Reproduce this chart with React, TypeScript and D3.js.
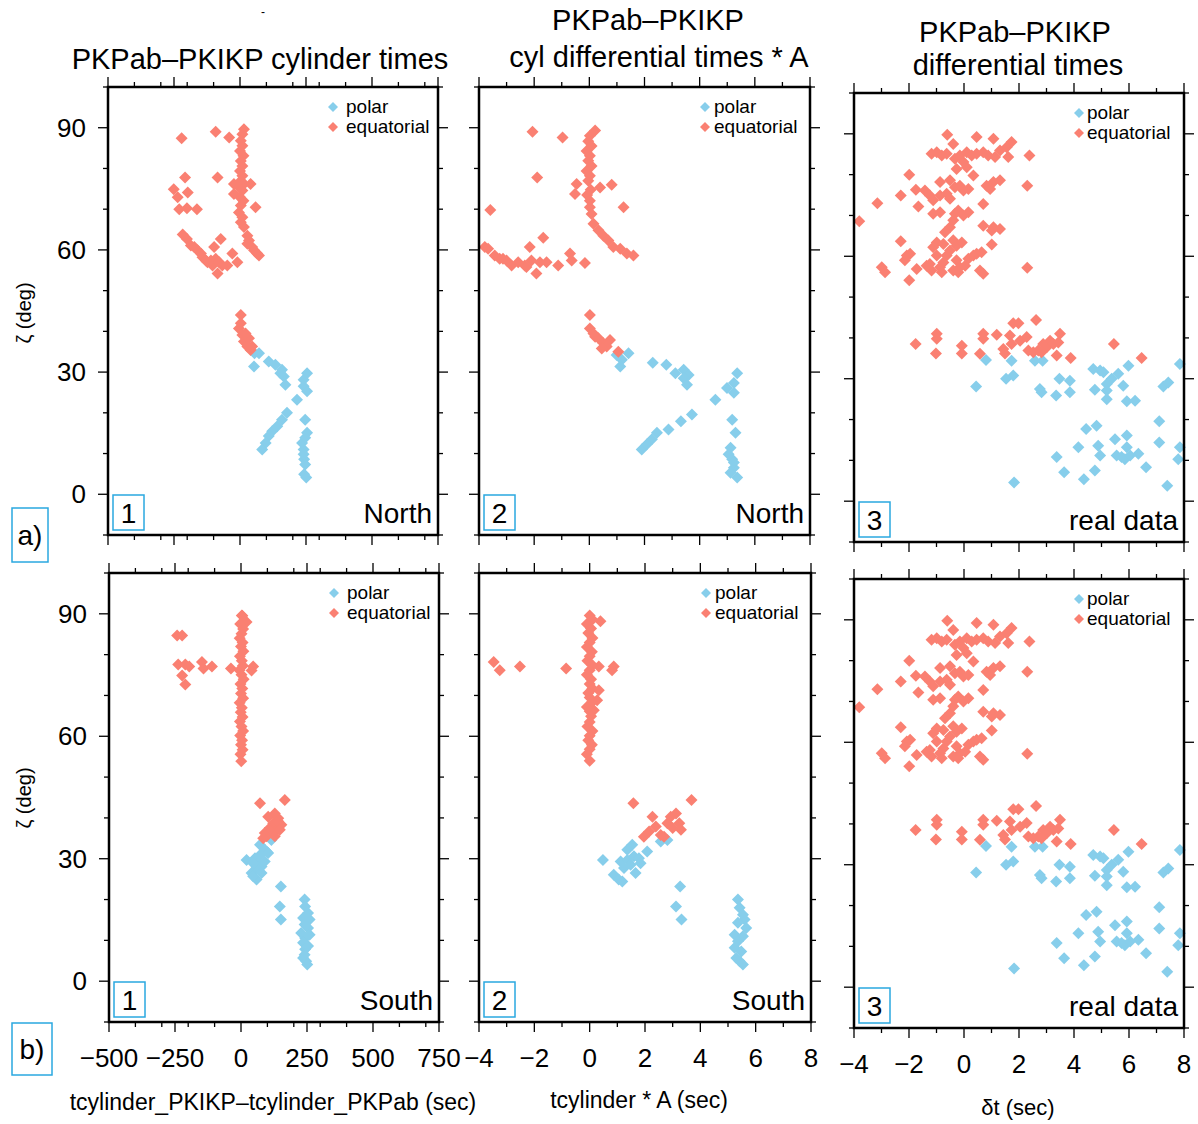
import React from 'react';
import * as d3 from 'd3';

type Pt = [number, number];

// ---------- DATA ----------
const seriesNames = ['polar', 'equatorial'];
const panelNumbers = ['1', '2', '3'];
const regionNames = ['North', 'South', 'real data'];
const rowLabels = ['a)', 'b)'];

const cylTicks = [-500, -250, 0, 250, 500, 750];
const cylMinorTicks = [-500, -400, -300, -200, -100, 0, 100, 200, 300, 400, 500, 600, 700];
const secTicks = [-4, -2, 0, 2, 4, 6, 8];
const secMinorTicks = [-4, -3, -2, -1, 0, 1, 2, 3, 4, 5, 6, 7, 8];
const zetaTicks = [0, 30, 60, 90];
const zetaMinorTicks = [-10, 0, 10, 20, 30, 40, 50, 60, 70, 80, 90, 100];

// Panel 1, North: cylinder times
const cylNorthPolar: Pt[] = [
  [55, 34.6], [72, 34.6], [53, 31.4], [109, 32.6], [134, 31.8], [159, 30.6], [166, 28.9], [172, 26.9],
  [153, 29.7], [254, 29.7], [241, 28.1], [241, 26.5], [254, 25.3], [216, 23.2], [178, 20.0], [159, 18.3],
  [141, 16.7], [122, 15.5], [109, 14.3], [97, 12.6], [84, 11.0], [247, 18.3], [254, 15.1], [241, 11.0],
  [243, 8.6], [247, 7.3], [243, 4.9], [251, 4.1], [241, 9.8], [235, 12.6], [247, 13.9],
];
const cylNorthEquatorial: Pt[] = [
  [-221, 87.4], [-92, 89.0], [-41, 87.6], [15, 89.6], [-208, 77.8], [-85, 77.8], [-251, 74.9], [-198, 74.1],
  [-236, 72.9], [-230, 70.0], [-201, 70.2], [-163, 70.0], [-23, 76.2], [40, 76.2], [-23, 73.7], [59, 70.5],
  [9, 88.4], [3, 86.8], [9, 85.6], [0, 84.3], [13, 83.1], [3, 81.8], [9, 80.6], [0, 79.4], [9, 78.2],
  [3, 77.0], [15, 76.2], [-4, 75.4], [9, 74.6], [0, 72.9], [13, 72.1], [3, 70.9], [-4, 69.2], [9, 68.0],
  [3, 66.8], [15, 65.6], [28, 63.5], [34, 62.3], [46, 60.7], [53, 59.9], [65, 59.1], [72, 58.6], [28, 61.5],
  [-217, 63.8], [-201, 62.7], [-186, 61.1], [-161, 59.9], [-142, 58.2], [-123, 57.0], [-104, 56.2], [-85, 54.2],
  [-92, 57.8], [-73, 62.7], [-98, 60.7], [-48, 56.2], [-29, 59.1], [-10, 57.0], [-148, 59.1], [-110, 57.4],
  [-79, 57.0], [-129, 57.4], [-67, 56.2], [-173, 60.7],
  [3, 44.0], [-4, 40.7], [9, 39.1], [15, 37.5], [28, 36.3], [40, 35.4], [34, 38.3], [21, 39.5], [3, 42.0], [46, 36.3],
];

// Panel 1, South
const cylSouthPolar: Pt[] = [
  [115, 34.6], [72, 33.4], [90, 32.2], [97, 31.8], [21, 29.7], [53, 30.1], [65, 28.9], [78, 28.1], [59, 27.7],
  [40, 26.5], [59, 24.9], [46, 25.7], [78, 26.5], [90, 29.3], [103, 31.4], [72, 30.9], [46, 28.9], [151, 23.2],
  [147, 18.3], [151, 15.1], [241, 20.0], [243, 18.3], [254, 16.7], [235, 15.5], [260, 15.1], [241, 13.9],
  [254, 13.0], [228, 11.8], [260, 11.4], [243, 10.6], [235, 9.4], [254, 8.6], [243, 7.8], [235, 5.7],
  [247, 4.9], [251, 4.1], [241, 6.5],
];
const cylSouthEquatorial: Pt[] = [
  [-242, 84.7], [-223, 84.7], [-238, 77.6], [-211, 77.6], [-196, 77.1], [-223, 74.9], [-211, 72.7], [-148, 78.2],
  [-142, 76.6], [-110, 77.1], [-38, 76.6], [46, 77.1], [40, 76.1], [21, 88.0], [3, 89.6],
  [5, 89.5], [10, 88.2], [-3, 87.5], [8, 86.3], [2, 85.1], [-5, 84.0], [6, 83.0], [0, 82.0], [9, 80.8],
  [-4, 79.6], [3, 78.5], [7, 77.3], [-6, 76.2], [2, 75.1], [10, 74.0], [-2, 72.8], [5, 71.7], [0, 70.5],
  [8, 69.3], [-5, 68.2], [3, 67.0], [-1, 65.9], [6, 64.7], [-4, 63.6], [2, 62.4], [8, 61.3], [-3, 60.2],
  [4, 59.0], [0, 57.9], [6, 56.7], [-2, 55.6], [1, 53.9],
  [72, 43.6], [166, 44.4], [103, 40.3], [128, 41.1], [141, 39.9], [122, 38.7], [153, 38.3], [109, 37.5],
  [134, 37.1], [90, 36.3], [115, 36.7], [141, 39.1], [97, 35.5], [84, 35.0], [128, 35.5], [147, 37.1],
];

// Panel 2, North: cylinder times * A
const cylANorthPolar: Pt[] = [
  [0.99, 34.2], [1.42, 34.6], [1.18, 33.0], [1.12, 31.4], [2.30, 32.3], [2.79, 31.8], [3.12, 29.7], [3.42, 30.6],
  [3.6, 29.3], [3.42, 28.5], [3.54, 26.9], [4.57, 23.2], [4.99, 26.1], [5.24, 27.3], [5.36, 29.7], [5.24, 24.9],
  [3.72, 19.6], [3.32, 17.9], [2.87, 15.9], [2.45, 15.1], [2.27, 13.5], [1.9, 11.0], [2.08, 12.2], [5.18, 18.3],
  [5.3, 15.1], [5.12, 11.4], [5.18, 8.6], [5.24, 6.5], [5.36, 4.1], [5.12, 5.3], [5.05, 9.8], [5.24, 7.8],
];
const cylANorthEquatorial: Pt[] = [
  [-2.06, 89.0], [-0.97, 87.6], [0.21, 89.3], [0.02, 88.0], [-0.04, 86.7], [0.08, 85.5], [-0.1, 84.3],
  [0.02, 83.1], [-0.04, 81.9], [0.08, 80.6], [-0.1, 79.4], [0.02, 78.2], [-0.04, 77.0], [0.05, 74.8],
  [-0.08, 73.5], [0.02, 72.1], [0.02, 70.5], [-1.89, 77.8], [-0.46, 76.2], [-0.52, 73.7], [0.39, 75.3],
  [0.81, 76.0], [1.24, 70.5], [-3.59, 69.8], [0.08, 68.8], [0.15, 66.4], [0.33, 64.8], [0.51, 63.5],
  [0.69, 62.3], [0.87, 60.7], [1.12, 60.3], [1.36, 59.1], [1.6, 58.6], [-3.79, 60.7], [-3.67, 60.3],
  [-3.43, 58.6], [-3.25, 57.8], [-3.0, 57.4], [-2.82, 56.2], [-2.58, 57.0], [-2.34, 56.2], [-2.16, 60.7],
  [-2.1, 57.4], [-1.92, 54.2], [-1.79, 57.0], [-1.67, 63.0], [-1.55, 57.0], [-1.13, 56.2], [-0.7, 59.1],
  [-0.64, 57.4], [-0.16, 56.8], [-2.28, 55.8], [-3.13, 57.8],
  [0.02, 44.0], [0.02, 40.7], [0.15, 39.5], [0.33, 38.3], [0.51, 37.1], [0.63, 36.3], [0.75, 37.9],
  [1.05, 35.0], [0.21, 38.7], [0.45, 35.8],
];

// Panel 2, South
const cylASouthPolar: Pt[] = [
  [2.57, 34.2], [2.81, 34.6], [1.54, 33.4], [2.08, 31.8], [0.48, 29.7], [1.12, 29.3], [1.36, 29.7], [1.6, 30.6],
  [1.78, 30.1], [1.48, 28.5], [1.24, 27.7], [1.66, 26.5], [0.87, 26.1], [1.05, 24.9], [1.18, 24.4], [1.84, 28.9],
  [1.36, 32.2], [3.27, 23.2], [3.12, 18.3], [3.32, 15.1], [5.36, 20.0], [5.42, 18.0], [5.54, 16.3], [5.6, 15.1],
  [5.36, 14.3], [5.66, 13.0], [5.24, 11.4], [5.54, 11.0], [5.36, 9.8], [5.24, 8.2], [5.48, 7.3], [5.3, 5.7],
  [5.54, 4.1], [5.42, 4.9],
];
const cylASouthEquatorial: Pt[] = [
  [-3.47, 78.2], [-3.25, 76.2], [-2.52, 77.1], [-0.85, 76.6], [0.39, 88.2], [0.33, 77.1], [0.87, 77.1],
  [0.81, 76.2], [0.33, 71.3], [0.27, 68.8], [0.15, 66.4],
  [0.0, 89.6], [0.1, 88.6], [-0.1, 87.5], [0.05, 86.4], [-0.05, 85.3], [0.1, 84.1], [0.0, 83.0], [-0.1, 81.9],
  [0.08, 80.7], [0.0, 79.6], [-0.08, 78.5], [0.1, 77.4], [0.0, 76.2], [-0.1, 75.1], [0.05, 74.0], [0.0, 72.8],
  [0.1, 71.7], [-0.05, 70.6], [0.0, 69.5], [0.08, 68.3], [-0.1, 67.2], [0.0, 66.1], [0.05, 64.9], [0.0, 63.5],
  [-0.08, 62.4], [0.1, 61.3], [0.0, 60.1], [-0.05, 59.0], [0.08, 57.9], [0.0, 56.8], [-0.1, 55.6], [0.0, 54.0],
  [1.58, 43.6], [3.68, 44.4], [2.27, 40.3], [1.96, 35.4], [2.15, 36.7], [2.39, 37.9], [2.57, 35.8], [2.81, 38.7],
  [2.93, 40.3], [3.12, 41.1], [3.0, 37.5], [3.24, 38.7], [3.3, 37.1], [2.69, 35.4],
];

// Panel 3: real data (differential times)
const realPolar: Pt[] = [
  [0.44, 28.1], [0.8, 34.6], [1.53, 30.0], [1.79, 30.8], [1.73, 34.4], [2.58, 34.4], [2.86, 34.4], [2.76, 27.5],
  [2.82, 26.7], [3.35, 25.9], [3.47, 30.0], [3.85, 29.5], [3.85, 26.7], [4.7, 32.4], [4.95, 32.0], [5.07, 31.6],
  [4.76, 27.3], [5.19, 28.7], [5.37, 30.0], [5.61, 31.2], [5.19, 27.1], [5.19, 25.0], [5.79, 28.3], [5.98, 33.2],
  [5.92, 24.5], [6.22, 24.6], [7.25, 28.1], [7.43, 29.1], [7.85, 33.6], [4.44, 17.7], [4.82, 18.5], [5.49, 15.2],
  [5.92, 16.1], [4.88, 13.6], [4.95, 11.2], [5.55, 11.2], [5.73, 10.8], [5.92, 13.2], [5.85, 10.3], [6.34, 11.6],
  [4.16, 13.2], [3.37, 10.8], [3.64, 7.1], [4.36, 5.4], [4.76, 7.5], [6.62, 8.3], [7.1, 19.6], [7.1, 14.4],
  [7.85, 13.2], [7.79, 10.3], [7.39, 3.8], [1.82, 4.6], [6.04, 11.2],
];
const realEquatorial: Pt[] = [
  [-0.61, 89.8], [0.46, 89.2], [1.07, 88.8], [1.73, 88.0], [1.55, 86.7], [1.31, 85.9], [-0.39, 87.5], [-1.18, 85.1],
  [-0.99, 85.5], [-0.81, 84.7], [-0.63, 85.1], [-0.33, 83.9], [-0.15, 84.7], [0.1, 85.5], [0.28, 84.7], [0.46, 85.1],
  [0.7, 85.5], [0.88, 84.7], [1.13, 84.3], [1.61, 84.3], [2.38, 84.7], [-0.02, 83.1], [-0.27, 81.4], [0.1, 81.8],
  [0.34, 79.8], [-1.99, 80.0], [-1.75, 76.3], [-1.42, 76.1], [-1.24, 74.9], [-0.87, 78.2], [-0.51, 78.6],
  [-0.33, 76.9], [-0.15, 77.3], [-0.02, 76.1], [0.16, 76.5], [0.82, 77.3], [1.07, 78.2], [1.31, 78.6],
  [0.95, 76.5], [2.3, 77.3], [-2.3, 74.9], [-3.15, 73.0], [-1.66, 72.2], [-1.12, 73.7], [-0.87, 74.9],
  [-0.63, 75.3], [-0.51, 74.1], [0.7, 72.8], [-3.81, 68.6], [-1.12, 70.4], [-0.87, 70.8], [-0.33, 70.4],
  [-0.21, 71.2], [-0.02, 70.0], [0.16, 70.8], [-0.39, 68.8], [-0.51, 67.1], [-0.69, 65.9], [0.7, 67.5],
  [1.07, 67.1], [1.31, 66.7], [1.01, 66.3], [-2.3, 63.7], [-0.99, 63.4], [-1.12, 62.2], [-0.75, 63.0],
  [-0.39, 63.9], [-0.27, 62.6], [-0.08, 63.4], [1.01, 62.9], [-2.08, 60.2], [-2.15, 59.0], [-1.96, 60.6],
  [-1.72, 56.9], [-1.36, 57.7], [-1.18, 56.5], [-0.87, 57.3], [-0.75, 58.5], [-0.63, 60.2], [-0.27, 59.0],
  [-0.15, 57.3], [0.04, 57.7], [0.16, 59.4], [0.34, 60.2], [0.46, 60.6], [0.64, 61.0], [-2.99, 57.3],
  [-2.87, 56.1], [-1.99, 54.1], [0.58, 56.5], [0.7, 55.7], [2.3, 57.2], [-0.39, 56.5], [-0.21, 56.1],
  [-1.24, 58.1], [-0.81, 56.1], [-0.99, 60.2], [-0.51, 61.4],
  [-1.76, 38.5], [-0.99, 41.0], [-0.99, 39.8], [-1.02, 36.2], [-0.08, 38.1], [-0.08, 36.2], [0.58, 36.1],
  [0.7, 41.0], [0.7, 39.8], [1.19, 40.8], [1.43, 37.3], [1.49, 36.2], [1.67, 40.6], [1.79, 43.6], [1.98, 43.6],
  [1.73, 38.5], [2.04, 39.3], [2.28, 40.2], [2.34, 36.9], [2.62, 44.4], [2.7, 36.9], [2.88, 38.5], [3.01, 37.7],
  [3.13, 39.3], [3.25, 38.5], [3.37, 35.7], [3.49, 41.0], [3.43, 38.9], [3.88, 35.1], [5.45, 38.5], [6.46, 35.1],
  [2.52, 36.5], [2.82, 36.5],
];

// ---------- STYLE / LAYOUT ----------
const FONT = '"Liberation Sans", Arial, Helvetica, sans-serif';
const POLAR = '#87CEEB';
const EQUAT = '#FA8072';
const BOXBLUE = '#2AA8E0';

type PanelSpec = {
  x0: number; x1: number; y0: number; y1: number;
  xDomain: [number, number]; xMajor: number[]; xMinor: number[];
  polar: Pt[]; equatorial: Pt[];
  num: string; region: string; showX: boolean; showY: boolean; legendGap: number;
};

const diamond = (r: number) => `M0,${-r}L${r},0L0,${r}L${-r},0Z`;

function Panel({ p }: { p: PanelSpec }) {
  const x = d3.scaleLinear().domain(p.xDomain).range([p.x0, p.x1]);
  const y = d3.scaleLinear().domain([-10, 100]).range([p.y1, p.y0]);
  const MAJ = 10, MIN = 5;
  const xMajorSet = new Set(p.xMajor);
  const yMajorSet = new Set(zetaTicks);
  const ticks: JSX.Element[] = [];
  p.xMinor.concat(p.xMajor.filter((v) => !p.xMinor.includes(v))).forEach((v, i) => {
    const len = xMajorSet.has(v) ? MAJ : MIN;
    const X = x(v);
    ticks.push(<line key={'xt' + i} x1={X} x2={X} y1={p.y0} y2={p.y0 - len} />);
    ticks.push(<line key={'xb' + i} x1={X} x2={X} y1={p.y1} y2={p.y1 + len} />);
  });
  zetaMinorTicks.forEach((v, i) => {
    const len = yMajorSet.has(v) ? MAJ : MIN;
    const Y = y(v);
    ticks.push(<line key={'yl' + i} x1={p.x0} x2={p.x0 - len} y1={Y} y2={Y} />);
    ticks.push(<line key={'yr' + i} x1={p.x1} x2={p.x1 + len} y1={Y} y2={Y} />);
  });
  const lx = p.x1 - 105;
  return (
    <g>
      <g>
        {p.polar.map((d, i) => (
          <path key={'p' + i} d={diamond(6)} transform={`translate(${x(d[0])},${y(d[1])})`} fill={POLAR} />
        ))}
        {p.equatorial.map((d, i) => (
          <path key={'e' + i} d={diamond(6)} transform={`translate(${x(d[0])},${y(d[1])})`} fill={EQUAT} />
        ))}
      </g>
      <rect x={p.x0} y={p.y0} width={p.x1 - p.x0} height={p.y1 - p.y0} fill="none" stroke="#000" strokeWidth={2.5} />
      <g stroke="#000" strokeWidth={1.3}>{ticks}</g>
      {p.showY && zetaTicks.map((v) => (
        <text key={'yl' + v} x={p.x0 - 22} y={y(v) + 9} textAnchor="end" fontSize={26} fontFamily={FONT}>{v}</text>
      ))}
      {p.showX && p.xMajor.map((v) => (
        <text key={'xl' + v} x={x(v)} y={p.y1 + 45} textAnchor="middle" fontSize={26} fontFamily={FONT}>
          {v < 0 ? '\u2212' + Math.abs(v) : String(v)}
        </text>
      ))}
      <path d={diamond(5)} transform={`translate(${lx},${p.y0 + 20})`} fill={POLAR} />
      <path d={diamond(5)} transform={`translate(${lx},${p.y0 + 40})`} fill={EQUAT} />
      <text x={lx + p.legendGap} y={p.y0 + 26} fontSize={19} fontFamily={FONT}>{seriesNames[0]}</text>
      <text x={lx + p.legendGap} y={p.y0 + 46} fontSize={19} fontFamily={FONT}>{seriesNames[1]}</text>
      <rect x={p.x0 + 5} y={p.y1 - 40} width={31} height={35} fill="none" stroke={BOXBLUE} strokeWidth={1.5} />
      <text x={p.x0 + 20.5} y={p.y1 - 12} textAnchor="middle" fontSize={28} fontFamily={FONT}>{p.num}</text>
      <text x={p.x1 - 6} y={p.y1 - 12} textAnchor="end" fontSize={28} fontFamily={FONT}>{p.region}</text>
    </g>
  );
}

export default function App() {
  const panels: PanelSpec[] = [
    { x0: 108, x1: 438, y0: 87, y1: 535, xDomain: [-500, 750], xMajor: cylTicks, xMinor: cylMinorTicks,
      polar: cylNorthPolar, equatorial: cylNorthEquatorial, num: panelNumbers[0], region: regionNames[0], showX: false, showY: true, legendGap: 13 },
    { x0: 479, x1: 810, y0: 87, y1: 535, xDomain: [-4, 8], xMajor: secTicks, xMinor: secMinorTicks,
      polar: cylANorthPolar, equatorial: cylANorthEquatorial, num: panelNumbers[1], region: regionNames[0], showX: false, showY: false, legendGap: 9 },
    { x0: 854, x1: 1184, y0: 93, y1: 542, xDomain: [-4, 8], xMajor: secTicks, xMinor: secMinorTicks,
      polar: realPolar, equatorial: realEquatorial, num: panelNumbers[2], region: regionNames[2], showX: false, showY: false, legendGap: 8 },
    { x0: 109, x1: 439, y0: 573, y1: 1022, xDomain: [-500, 750], xMajor: cylTicks, xMinor: cylMinorTicks,
      polar: cylSouthPolar, equatorial: cylSouthEquatorial, num: panelNumbers[0], region: regionNames[1], showX: true, showY: true, legendGap: 13 },
    { x0: 479, x1: 811, y0: 573, y1: 1022, xDomain: [-4, 8], xMajor: secTicks, xMinor: secMinorTicks,
      polar: cylASouthPolar, equatorial: cylASouthEquatorial, num: panelNumbers[1], region: regionNames[1], showX: true, showY: false, legendGap: 9 },
    { x0: 854, x1: 1184, y0: 579, y1: 1028, xDomain: [-4, 8], xMajor: secTicks, xMinor: secMinorTicks,
      polar: realPolar, equatorial: realEquatorial, num: panelNumbers[2], region: regionNames[2], showX: true, showY: false, legendGap: 8 },
  ];
  return (
    <svg width={1198} height={1124} style={{ position: 'absolute', left: 0, top: 0, background: '#fff' }}
      fontFamily={FONT}>
      <rect x={0} y={0} width={1198} height={1124} fill="#fff" />
      <text x={263} y={16} fontSize={12} textAnchor="middle" fill="#000">-</text>
      <text x={260} y={69} fontSize={29} textAnchor="middle">PKPab{'\u2013'}PKIKP cylinder times</text>
      <text x={648} y={30} fontSize={29} textAnchor="middle">PKPab{'\u2013'}PKIKP</text>
      <text x={659} y={67} fontSize={29} textAnchor="middle">cyl differential times * A</text>
      <text x={1015} y={42} fontSize={29} textAnchor="middle">PKPab{'\u2013'}PKIKP</text>
      <text x={1018} y={75} fontSize={29} textAnchor="middle">differential times</text>
      {panels.map((p, i) => <Panel key={i} p={p} />)}
      <text transform="translate(31,313) rotate(-90)" fontSize={20} textAnchor="middle">{'\u03B6'} (deg)</text>
      <text transform="translate(31,798) rotate(-90)" fontSize={20} textAnchor="middle">{'\u03B6'} (deg)</text>
      <rect x={12} y={508} width={36} height={54} fill="none" stroke={BOXBLUE} strokeWidth={1.5} />
      <text x={30} y={545} fontSize={28} textAnchor="middle">{rowLabels[0]}</text>
      <rect x={12} y={1023} width={40} height={52} fill="none" stroke={BOXBLUE} strokeWidth={1.5} />
      <text x={32} y={1059} fontSize={28} textAnchor="middle">{rowLabels[1]}</text>
      <text x={273} y={1110} fontSize={23} textAnchor="middle">tcylinder_PKIKP{'\u2013'}tcylinder_PKPab (sec)</text>
      <text x={639} y={1108} fontSize={23} textAnchor="middle">tcylinder * A (sec)</text>
      <text x={1018} y={1115} fontSize={22} textAnchor="middle">{'\u03B4'}t (sec)</text>
    </svg>
  );
}
